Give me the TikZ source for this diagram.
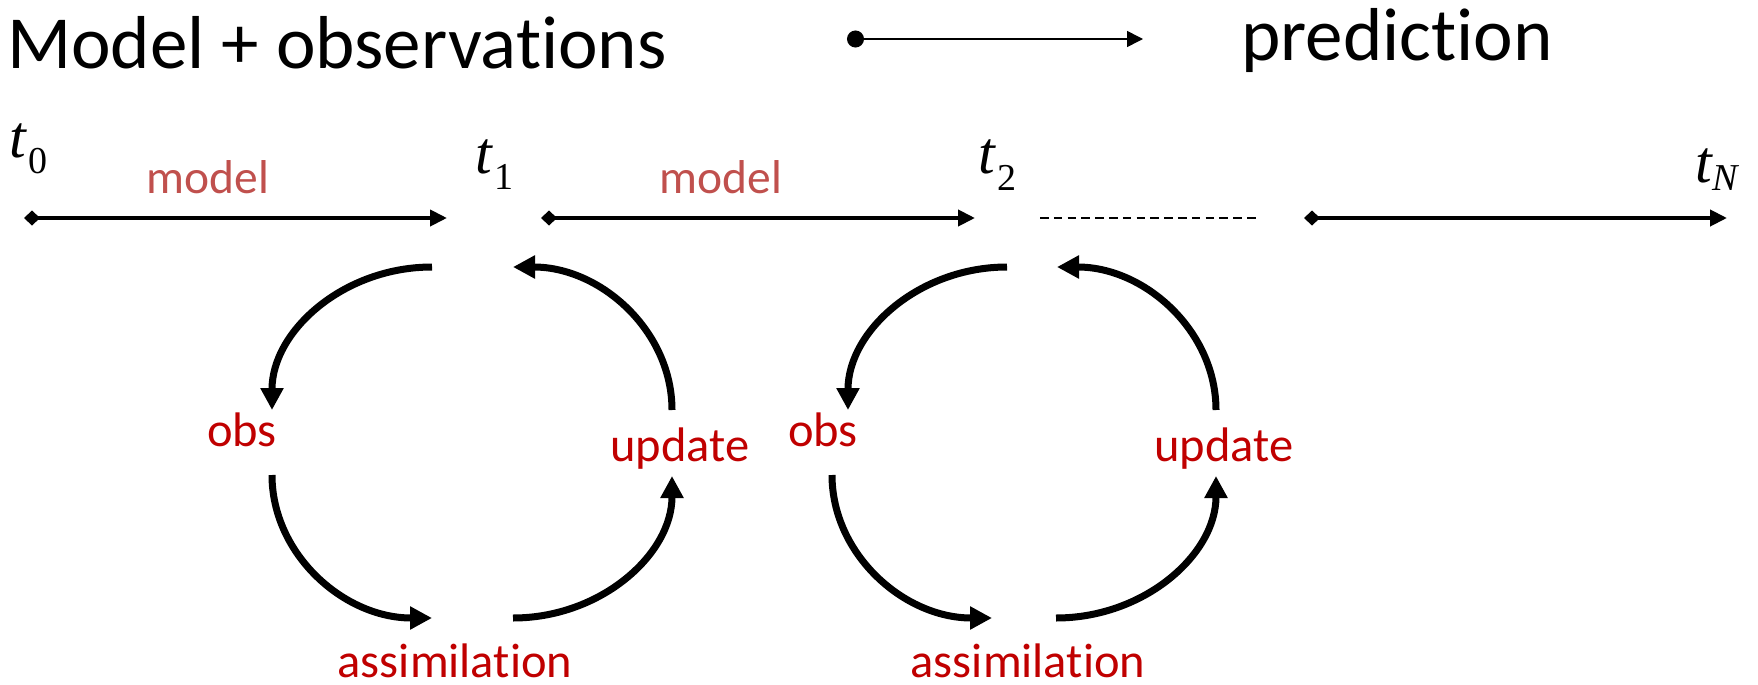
\documentclass[tikz,border=0pt]{standalone}
\usepackage{fontspec}
\setmainfont{Carlito}[Ligatures={NoCommon,NoContextual}]
\newfontfamily\timesf{Liberation Serif}
\usetikzlibrary{arrows.meta}
\definecolor{modelred}{HTML}{C0504D}
\definecolor{stepred}{HTML}{C00000}

\tikzset{
  headline/.style={font=\fontsize{75}{80}\selectfont, inner sep=0pt, anchor=base west},
  tmain/.style={font=\timesf\itshape\fontsize{60}{60}\selectfont, inner sep=0pt, anchor=base west},
  tsub/.style={font=\timesf\fontsize{38}{38}\selectfont, inner sep=0pt, anchor=base west},
  tsubit/.style={font=\timesf\itshape\fontsize{38}{38}\selectfont, inner sep=0pt, anchor=base west},
  modellabel/.style={font=\fontsize{47.5}{50}\selectfont, text=modelred, inner sep=0pt, anchor=base},
  steplabel/.style={font=\fontsize{48.5}{50}\selectfont, text=stepred, inner sep=0pt, anchor=base},
  modelarrow/.style={line width=4pt, {Turned Square[length=16pt,width=15pt]}-{Triangle[length=17pt,width=16pt]}},
  keyarrow/.style={line width=1.5pt, {Circle[length=17pt]}-{Triangle[length=16pt,width=16pt]}},
  cyc/.style={line width=7pt, -{Triangle[length=22pt,width=22pt]}},
  gapline/.style={line width=1.5pt, dash pattern=on 8.5pt off 5.3pt},
}

\begin{document}
\begin{tikzpicture}[x=1pt,y=-1pt]
\useasboundingbox (0,0) rectangle (1758,685);

% header line
\node[headline] (title) at (7,69) {Model + observations};
\node[headline] (pred) at (1241,60) {prediction};
\coordinate (ks) at (847,39);
\coordinate (ke) at (1143,39);
\draw[keyarrow] (ks) -- (ke);

% time labels
\node[tmain] (t0) at (9,157) {t};
\node[tsub] (t0s) at (28,173) {0};
\node[tmain] (t1) at (475,173) {t};
\node[tsub] (t1s) at (494,189) {1};
\node[tmain] (t2) at (978,173) {t};
\node[tsub] (t2s) at (997,190) {2};
\node[tmain] (tN) at (1695,182) {t};
\node[tsubit] (tNs) at (1712,190) {N};

% model steps along the time axis
\node[modellabel] (mod1) at (208,193) {model};
\node[modellabel] (mod2) at (721,193) {model};
\coordinate (m1s) at (24,218);
\coordinate (m1e) at (447,218);
\coordinate (m2s) at (541,218);
\coordinate (m2e) at (975,218);
\coordinate (m3s) at (1304,218);
\coordinate (m3e) at (1727,218);
\coordinate (ds) at (1040,218);
\coordinate (de) at (1258,218);
\draw[modelarrow] (m1s) -- (m1e);
\draw[modelarrow] (m2s) -- (m2e);
\draw[modelarrow] (m3s) -- (m3e);
\draw[gapline] (ds) -- (de);

% first assimilation cycle
\node[steplabel] (obs1) at (242,446) {obs};
\node[steplabel] (upd1) at (680,461) {update};
\node[steplabel] (ass1) at (455,677) {assimilation};
\coordinate (a1s) at (432,267);
\coordinate (a1e) at (272,410);
\coordinate (b1s) at (272,475);
\coordinate (b1e) at (432,618);
\coordinate (c1s) at (513,618);
\coordinate (c1e) at (672,476);
\coordinate (d1s) at (672,410);
\coordinate (d1e) at (513,267);
\draw[cyc] (a1s) .. controls (343.6,267) and (272,331) .. (a1e);
\draw[cyc] (b1s) .. controls (272,554) and (343.6,618) .. (b1e);
\draw[cyc] (c1s) .. controls (600.8,618) and (672,554.4) .. (c1e);
\draw[cyc] (d1s) .. controls (672,331) and (600.8,267) .. (d1e);

% second assimilation cycle
\node[steplabel] (obs2) at (823,446) {obs};
\node[steplabel] (upd2) at (1224,461) {update};
\node[steplabel] (ass2) at (1028,677) {assimilation};
\coordinate (a2s) at (1007,267);
\coordinate (a2e) at (848,410);
\coordinate (b2s) at (832,475);
\coordinate (b2e) at (992,618);
\coordinate (c2s) at (1056,618);
\coordinate (c2e) at (1216,476);
\coordinate (d2s) at (1216,410);
\coordinate (d2e) at (1057,267);
\draw[cyc] (a2s) .. controls (919.2,267) and (848,331) .. (a2e);
\draw[cyc] (b2s) .. controls (832,554) and (903.6,618) .. (b2e);
\draw[cyc] (c2s) .. controls (1144.4,618) and (1216,554.4) .. (c2e);
\draw[cyc] (d2s) .. controls (1216,331) and (1144.8,267) .. (d2e);
\end{tikzpicture}
\end{document}
